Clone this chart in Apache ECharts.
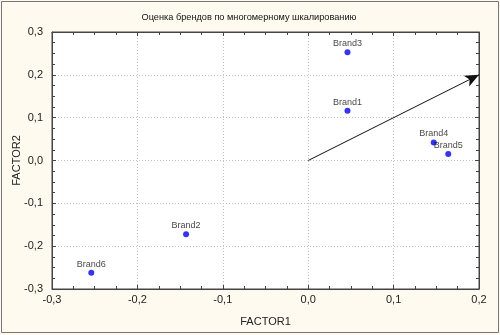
<!DOCTYPE html>
<html><head><meta charset="utf-8">
<script src="https://cdn.jsdelivr.net/npm/echarts@6/dist/echarts.min.js"></script>
<style>html,body{margin:0;padding:0;background:#fff}#c{width:500px;height:335px}</style>
</head><body><div id="c"></div>
<script>
const brands = ['Brand1','Brand2','Brand3','Brand4','Brand5','Brand6'];
const factor1 = [0.046, -0.143, 0.046, 0.147, 0.164, -0.254];
const factor2 = [0.116, -0.172, 0.253, 0.042, 0.015, -0.262];
const arrowStart = [0, 0];
const arrowEnd = [0.2, 0.2];
const xTicks = [-0.3, -0.2, -0.1, 0.0, 0.1, 0.2];
const yTicks = [-0.3, -0.2, -0.1, 0.0, 0.1, 0.2, 0.3];

const fmt = v => v.toFixed(1).replace('.', ',');
const pts = brands.map((b, i) => ({name: b, value: [factor1[i], factor2[i]]}));

// choose a narrow title font if available
function hasFont(name) {
  const c = document.createElement('canvas').getContext('2d');
  const s = 'Оценка брендов по многомерному шкалированию';
  c.font = '20px monospace'; const w0 = c.measureText(s).width;
  c.font = '20px "' + name + '", monospace'; const w1 = c.measureText(s).width;
  return Math.abs(w0 - w1) > 0.5;
}
const narrow = hasFont('Liberation Sans Narrow');
const titleFont = narrow ? 'Liberation Sans Narrow' : 'Liberation Sans';
const titleSize = narrow ? 11 : 9.2;

const tickCommon = {show: true, inside: true, length: 4, lineStyle: {color: '#444'}};
const minorCommon = {show: true, splitNumber: 4, length: 3, lineStyle: {color: '#444'}};
const lineCommon = {show: true, onZero: false, lineStyle: {color: '#444', width: 1}};
const labelFont = {fontFamily: 'Liberation Sans, Arial', fontSize: 11, color: '#222'};

const chart = echarts.init(document.getElementById('c'));
chart.setOption({
  backgroundColor: '#fffaf0',
  animation: false,
  title: {
    text: 'Оценка брендов по многомерному шкалированию',
    left: 244, top: 8, textAlign: 'center',
    textStyle: {fontFamily: titleFont, fontSize: titleSize, fontWeight: 'normal', color: '#111'}
  },
  graphic: [{
    type: 'rect', shape: {x: 1.5, y: 1.5, width: 497, height: 331},
    style: {fill: null, stroke: '#777', lineWidth: 1}, silent: true
  }],
  grid: {left: 52, top: 32, right: 21, bottom: 46, outerBoundsMode: 'none', containLabel: false,
    show: true, backgroundColor: '#fff', borderColor: '#444', borderWidth: 1},
  xAxis: [{
    type: 'value', min: xTicks[0], max: xTicks[xTicks.length - 1], interval: 0.1,
    name: 'FACTOR1', nameLocation: 'middle', nameGap: 27, nameMoveOverlap: false,
    nameTextStyle: {fontFamily: 'Liberation Sans, Arial', fontSize: 11, color: '#222'},
    axisLine: lineCommon, axisTick: tickCommon, minorTick: minorCommon,
    axisLabel: Object.assign({formatter: fmt, margin: 5}, labelFont),
    splitLine: {show: true, lineStyle: {color: '#c0c0c0', type: [1, 2]}}
  }, {
    type: 'value', position: 'top', min: xTicks[0], max: xTicks[xTicks.length - 1], interval: 0.1,
    axisLine: lineCommon, axisTick: tickCommon, minorTick: minorCommon,
    axisLabel: {show: false}, splitLine: {show: false}
  }],
  yAxis: [{
    type: 'value', min: yTicks[0], max: yTicks[yTicks.length - 1], interval: 0.1,
    name: 'FACTOR2', nameLocation: 'middle', nameGap: 30, nameRotate: 90, nameMoveOverlap: false,
    nameTextStyle: {fontFamily: 'Liberation Sans, Arial', fontSize: 11, color: '#222'},
    axisLine: lineCommon, axisTick: tickCommon, minorTick: minorCommon,
    axisLabel: Object.assign({formatter: fmt, margin: 9}, labelFont),
    splitLine: {show: true, lineStyle: {color: '#c0c0c0', type: [1, 2]}}
  }, {
    type: 'value', position: 'right', min: yTicks[0], max: yTicks[yTicks.length - 1], interval: 0.1,
    axisLine: lineCommon, axisTick: tickCommon, minorTick: minorCommon,
    axisLabel: {show: false}, splitLine: {show: false}
  }],
  series: [{
    type: 'scatter',
    data: pts,
    symbol: 'circle', symbolSize: 6,
    itemStyle: {color: '#0000ff'},
    label: {
      show: true, position: 'top', distance: 1,
      formatter: p => p.name,
      fontFamily: 'Liberation Sans, Arial', fontSize: 9, color: '#111'
    },
    markLine: {
      silent: true, symbol: ['none', 'arrow'], symbolSize: [9, 14],
      lineStyle: {color: '#111', width: 1, type: 'solid'},
      label: {show: false},
      data: [[{coord: arrowStart}, {coord: arrowEnd}]]
    }
  }]
});
</script></body></html>
